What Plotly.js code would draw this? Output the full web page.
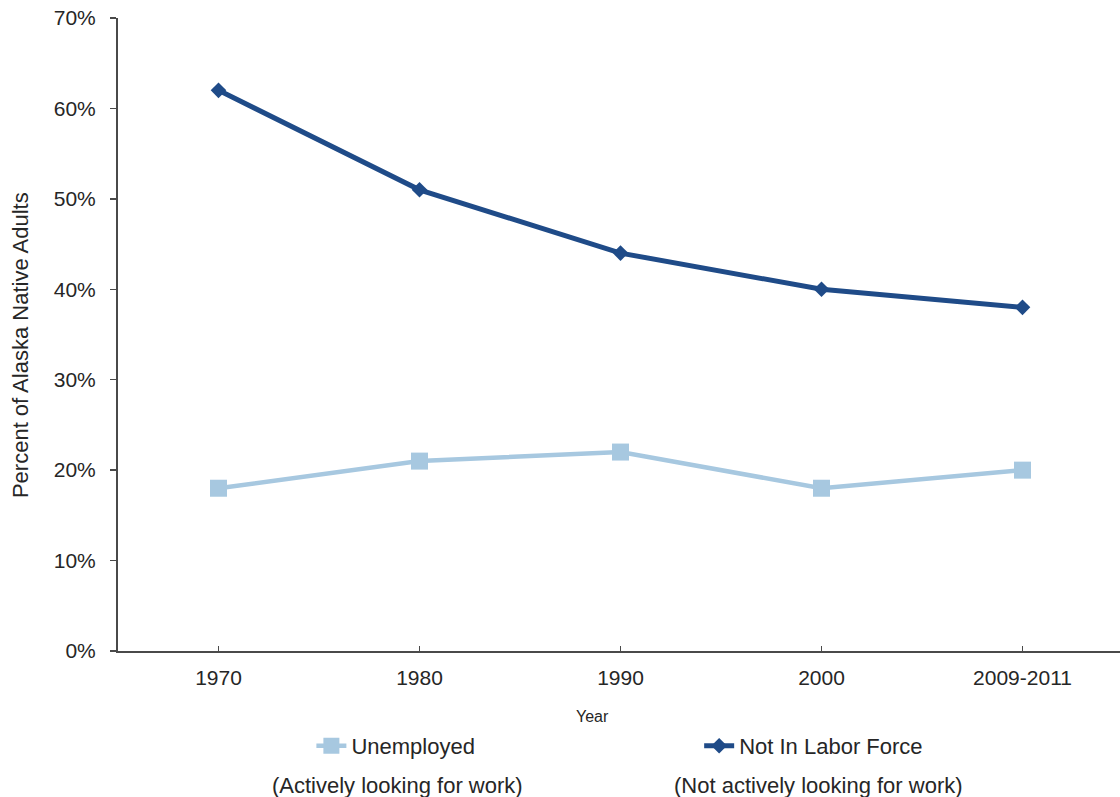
<!DOCTYPE html>
<html>
<head>
<meta charset="utf-8">
<script src="https://cdn.plot.ly/plotly-3.0.1.min.js"></script>
<style>
  html, body { margin: 0; padding: 0; background: #ffffff; }
  #chart { width: 1120px; height: 797px; }
</style>
</head>
<body>
<div id="chart"></div>
<script>
// Survey periods on the category axis
const years = ['1970', '1980', '1990', '2000', '2009-2011'];

// Share of Alaska Native adults (percent)
const unemployed = [18, 21, 22, 18, 20];
const notInLaborForce = [62, 51, 44, 40, 38];

// Tick values and labels for the percent axis
const yTickVals = [0, 10, 20, 30, 40, 50, 60, 70];
const yTickText = ['0%', '10%', '20%', '30%', '40%', '50%', '60%', '70%'];

const seriesNames = ['Unemployed', 'Not In Labor Force'];
const seriesNotes = ['(Actively looking for work)', '(Not actively looking for work)'];

const FONT = '"Liberation Sans", Arial, Helvetica, sans-serif';
const TEXT = '#262626';
const AXIS = '#4a4a4a';
const LIGHT = '#a7c8e0';
const DARK = '#1f4b88';

const traces = [
  {
    x: years, y: unemployed, name: seriesNames[0], type: 'scatter', mode: 'lines+markers',
    line: { color: LIGHT, width: 4.5 },
    marker: { symbol: 'square', size: 17, color: LIGHT },
    legend: 'legend'
  },
  {
    x: years, y: notInLaborForce, name: seriesNames[1], type: 'scatter', mode: 'lines+markers',
    line: { color: DARK, width: 5 },
    marker: { symbol: 'diamond', size: 12, color: DARK },
    legend: 'legend2'
  }
];

const layout = {
  width: 1120, height: 797,
  margin: { l: 118, r: 0, t: 18, b: 146 },
  paper_bgcolor: '#ffffff', plot_bgcolor: '#ffffff',
  font: { family: FONT, color: TEXT, size: 20 },
  xaxis: {
    type: 'category',
    range: [-0.5, 4.485],
    showgrid: false, zeroline: false,
    showline: true, linecolor: AXIS, linewidth: 2,
    ticks: 'inside', ticklen: 5, tickwidth: 1.5, tickcolor: AXIS,
    ticklabelstandoff: 7,
    tickfont: { family: FONT, size: 21, color: TEXT },
    fixedrange: true
  },
  yaxis: {
    range: [0, 70],
    tickvals: yTickVals, ticktext: yTickText,
    showgrid: false, zeroline: false,
    showline: true, linecolor: AXIS, linewidth: 2,
    ticks: 'outside', ticklen: 6, tickwidth: 1.5, tickcolor: AXIS,
    ticklabelstandoff: 10,
    tickfont: { family: FONT, size: 21, color: TEXT },
    fixedrange: true
  },
  showlegend: true,
  legend: {
    orientation: 'h', x: 0.193, xanchor: 'left', y: -0.15, yanchor: 'middle',
    font: { family: FONT, size: 22, color: TEXT }, bgcolor: 'rgba(0,0,0,0)'
  },
  legend2: {
    orientation: 'h', x: 0.58, xanchor: 'left', y: -0.15, yanchor: 'middle',
    font: { family: FONT, size: 22, color: TEXT }, bgcolor: 'rgba(0,0,0,0)'
  },
  annotations: [
    {
      text: 'Percent of Alaska Native Adults', textangle: -90,
      xref: 'paper', yref: 'paper', x: -0.098, y: 0.483,
      xanchor: 'center', yanchor: 'middle', showarrow: false,
      font: { family: FONT, size: 22, color: TEXT }
    },
    {
      text: 'Year', xref: 'paper', yref: 'paper', x: 0.474, y: -0.103,
      xanchor: 'center', yanchor: 'middle', showarrow: false,
      font: { family: FONT, size: 16, color: TEXT }
    },
    {
      text: seriesNotes[0], xref: 'paper', yref: 'paper', x: 0.279, y: -0.212,
      xanchor: 'center', yanchor: 'middle', showarrow: false,
      font: { family: FONT, size: 22, color: TEXT }
    },
    {
      text: seriesNotes[1], xref: 'paper', yref: 'paper', x: 0.699, y: -0.212,
      xanchor: 'center', yanchor: 'middle', showarrow: false,
      font: { family: FONT, size: 22, color: TEXT }
    }
  ]
};

Plotly.newPlot('chart', traces, layout, { displayModeBar: false, staticPlot: true });
</script>
</body>
</html>
